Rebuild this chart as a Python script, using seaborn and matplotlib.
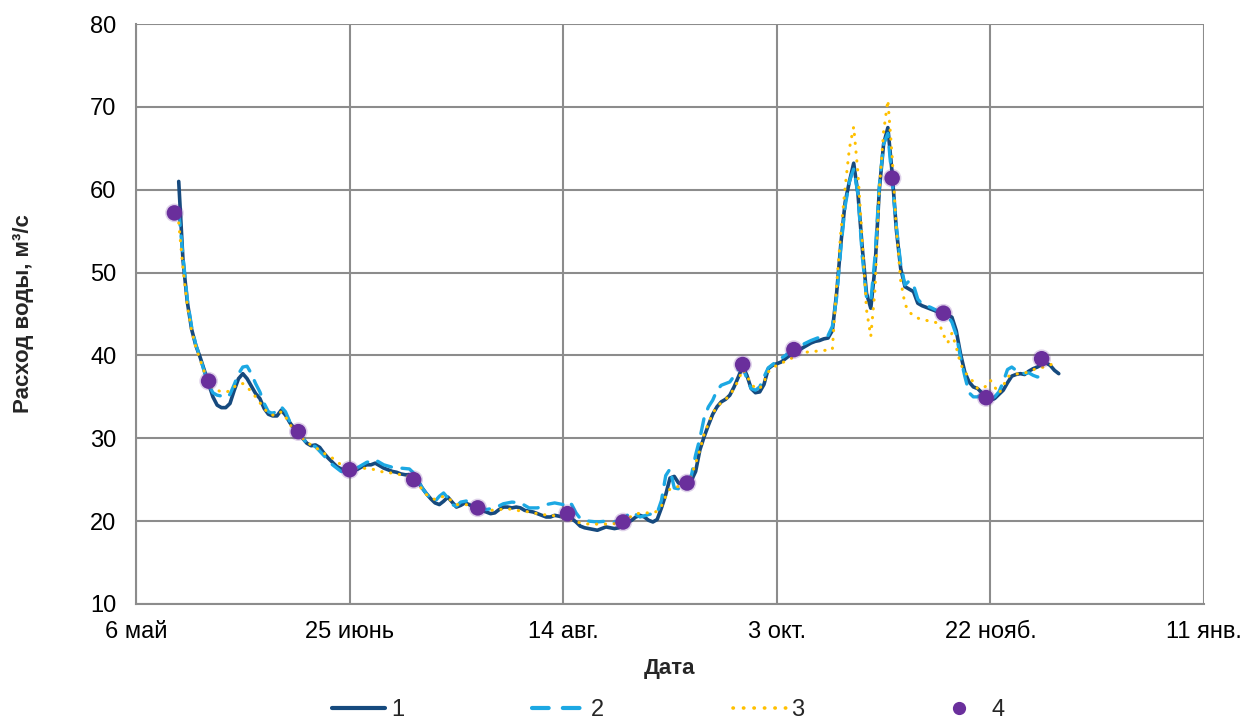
import numpy as np
import pandas as pd
import matplotlib
matplotlib.use("Agg")
import matplotlib.pyplot as plt
import seaborn as sns
from matplotlib.lines import Line2D

# ---------------- data ----------------
start_date = "2018-05-06"

# series 1: daily values, day offsets from start_date
days1 = list(range(10, 217))
vals1 = [61.0, 51.5, 46.5, 43.2, 41.2, 39.8, 38.2, 36.6, 35.0, 34.0,   # 10-19
         33.7, 33.7, 34.2, 35.8, 37.2, 37.8, 37.2, 36.3, 35.4, 34.8,   # 20-29
         33.6, 32.9, 32.7, 32.7, 33.4, 32.8, 31.9, 31.2, 30.6, 30.0,   # 30-39
         29.4, 29.1, 29.2, 28.9, 28.2, 27.6, 27.1, 26.6, 26.3, 26.2,   # 40-49
         26.2, 26.1, 26.3, 26.6, 26.8, 26.8, 27.0, 26.7, 26.4, 26.2,   # 50-59
         26.0, 25.9, 25.7, 25.6, 25.6, 25.2, 24.8, 24.0, 23.3, 22.7,   # 60-69
         22.2, 22.0, 22.4, 22.9, 22.3, 21.7, 21.9, 22.2, 22.0, 21.7,   # 70-79
         21.5, 21.3, 21.1, 20.9, 21.0, 21.4, 21.7, 21.7, 21.6, 21.7,   # 80-89
         21.6, 21.3, 21.2, 21.1, 20.9, 20.7, 20.5, 20.5, 20.7, 20.6,   # 90-99
         20.5, 20.4, 20.3, 19.9, 19.4, 19.2, 19.1, 19.0, 18.9, 19.1,   # 100-109
         19.3, 19.2, 19.1, 19.2, 19.5, 19.8, 20.1, 20.5, 20.7, 20.5,   # 110-119
         20.1, 19.9, 20.2, 21.6, 23.2, 25.2, 25.4, 24.6, 24.5, 24.6,   # 120-129
         24.9, 26.0, 28.6, 30.2, 31.6, 32.9, 33.8, 34.4, 34.7, 35.2,   # 130-139
         36.2, 37.4, 38.7, 37.6, 36.0, 35.5, 35.6, 36.5, 38.4, 38.8,   # 140-149
         39.0, 39.2, 39.6, 40.0, 40.3, 40.6, 40.9, 41.2, 41.5, 41.7,   # 150-159
         41.8, 42.0, 42.1, 43.0, 47.5, 53.5, 58.5, 61.0, 63.2, 59.5,   # 160-169
         53.0, 47.5, 45.7, 50.7, 60.0, 65.5, 67.5, 62.0, 55.1, 50.5,   # 170-179
         48.3, 48.0, 47.7, 46.3, 46.0, 45.8, 45.6, 45.4, 45.2, 45.1,   # 180-189
         44.9, 44.6, 43.0, 40.2, 38.0, 36.8, 36.2, 36.0, 35.5, 34.8,   # 190-199
         34.6, 34.8, 35.3, 35.8, 36.7, 37.5, 37.7, 37.8, 37.7, 38.1,   # 200-209
         38.4, 38.6, 38.9, 39.1, 38.8, 38.2, 37.8]                     # 210-216

days2 = [10, 11, 12, 13, 14, 15, 16, 17, 18, 19, 20, 21, 22, 23, 24, 25, 26, 27, 28, 29,
         30, 31, 32, 33, 34, 35, 36, 37, 38, 40, 42, 44, 46, 48, 50, 52, 54, 56, 58, 60,
         62, 64, 65, 66, 67, 68, 69, 70, 71, 72, 73, 74, 75, 76, 78, 80, 82, 84, 86, 88,
         90, 92, 94, 96, 98, 100, 101, 102, 103, 104, 106, 108, 110, 112, 114, 116, 117, 118, 120, 122,
         123, 124, 125, 126, 127, 128, 129, 130, 131, 132, 133, 134, 135, 136, 137, 138, 139, 140, 141, 142,
         143, 144, 145, 146, 147, 148, 150, 152, 154, 156, 158, 160, 162, 163, 164, 165, 166, 167, 168, 169,
         170, 171, 172, 173, 174, 175, 176, 177, 178, 179, 180, 181, 182, 183, 184, 186, 188, 189, 190, 191,
         192, 193, 194, 195, 196, 197, 198, 199, 200, 201, 202, 203, 204, 205, 206, 207, 208, 209, 210, 211,
         212, 213]
vals2 = [57.5, 52.0, 46.8, 43.5, 41.3, 39.8, 38.0, 36.5, 35.5, 35.2, 35.1, 34.9, 35.3, 36.5, 37.8, 38.6, 38.7, 37.8, 36.6, 35.6,
         34.2, 33.2, 33.0, 33.3, 33.8, 33.2, 32.0, 31.3, 30.7, 29.4, 29.0, 27.9, 26.8, 26.0, 25.9, 26.5, 27.1, 27.4, 26.8, 26.5,
         26.4, 26.3, 25.8, 25.0, 24.0, 23.3, 22.7, 22.4, 23.0, 23.4, 22.8, 22.0, 21.8, 22.3, 22.5, 21.8, 21.4, 21.6, 22.1, 22.3,
         22.2, 21.6, 21.6, 22.0, 22.2, 22.0, 22.4, 22.0, 21.0, 20.3, 20.0, 19.9, 20.0, 19.9, 20.3, 21.1, 20.8, 20.5, 20.8, 21.0,
         22.5, 25.5, 26.3, 24.0, 23.9, 24.3, 24.7, 25.5, 28.0, 30.0, 32.5, 33.8, 34.6, 35.8, 36.4, 36.6, 36.8, 37.5, 38.3, 38.6,
         37.2, 36.0, 35.8, 36.2, 37.4, 38.5, 39.3, 40.0, 40.8, 41.3, 41.8, 42.2, 42.4, 43.5, 47.0, 53.0, 58.0, 61.0, 62.5, 59.5,
         52.0, 47.0, 46.5, 52.0, 60.5, 65.5, 66.8, 61.0, 55.5, 51.0, 48.5, 49.0, 48.5, 46.8, 46.2, 45.8, 45.3, 45.0, 44.8, 44.0,
         42.5, 39.8, 37.5, 35.5, 35.0, 35.0, 35.3, 35.0, 34.8, 35.0, 35.6, 36.8, 38.3, 38.6, 38.2, 38.0, 37.8, 37.9, 37.6, 37.4,
         37.5, 37.8]

days3 = [10, 11, 12, 13, 14, 15, 16, 17, 18, 19, 20, 21, 22, 23, 24, 25, 26, 27, 28, 29,
         30, 31, 32, 33, 34, 35, 36, 37, 38, 40, 42, 44, 46, 48, 50, 52, 54, 56, 58, 60,
         62, 64, 66, 67, 68, 70, 72, 73, 75, 77, 79, 81, 83, 85, 87, 89, 91, 93, 95, 97,
         99, 101, 103, 105, 107, 109, 111, 113, 115, 117, 119, 121, 122, 123, 124, 125, 127, 129, 130, 131,
         132, 133, 134, 135, 136, 137, 138, 139, 140, 141, 142, 143, 144, 145, 146, 147, 148, 149, 150, 152,
         154, 155, 157, 159, 161, 163, 164, 165, 166, 167, 168, 169, 170, 171, 172, 173, 174, 175, 176, 177,
         178, 179, 180, 181, 183, 186, 188, 189, 190, 191, 192, 193, 194, 195, 196, 197, 198, 199, 200, 201,
         202, 203, 204, 205, 207, 209, 211, 213, 215]
vals3 = [56.0, 50.5, 46.0, 43.0, 41.0, 39.5, 38.0, 36.8, 36.0, 35.8, 35.6, 35.6, 35.7, 36.2, 36.6, 36.6, 36.2, 35.6, 35.0, 34.3,
         33.6, 33.0, 32.8, 32.8, 33.2, 32.6, 31.7, 31.0, 30.5, 29.5, 28.9, 28.2, 27.6, 26.8, 26.3, 26.3, 26.4, 26.2, 25.9, 25.8,
         25.6, 25.4, 24.5, 23.8, 23.2, 22.6, 23.0, 22.8, 22.0, 22.0, 21.9, 21.5, 21.3, 21.4, 21.5, 21.3, 21.2, 21.0, 20.8, 20.7,
         20.6, 20.3, 19.9, 19.7, 19.6, 19.7, 19.6, 19.8, 20.3, 20.9, 21.0, 21.0, 21.2, 21.8, 23.0, 23.9, 24.2, 24.4, 25.5, 27.0,
         28.6, 30.5, 31.8, 33.0, 33.8, 34.3, 34.7, 35.2, 36.0, 37.0, 38.3, 37.5, 36.6, 36.0, 36.0, 36.8, 38.0, 38.5, 38.8, 39.3,
         39.8, 40.3, 40.4, 40.5, 40.6, 40.7, 48.5, 55.0, 60.3, 65.0, 67.6, 62.0, 54.0, 45.5, 42.3, 48.0, 60.0, 67.0, 70.8, 64.0,
         55.1, 49.0, 46.2, 45.2, 44.5, 44.1, 43.9, 42.5, 41.5, 42.7, 41.0, 39.0, 38.0, 37.4, 36.8, 36.0, 36.0, 36.3, 37.0, 36.2,
         35.4, 36.3, 37.4, 37.7, 37.8, 38.0, 38.5, 38.6, 39.1]

days4 = [9, 17, 38, 50, 65, 80, 101, 114, 129, 142, 154, 177, 189, 199, 212]
vals4 = [57.2, 36.9, 30.8, 26.2, 25.0, 21.6, 20.9, 19.9, 24.6, 38.9, 40.7, 61.4, 45.1, 34.9, 39.6]

tick_days = [0, 50, 100, 150, 200, 250]
tick_labels = ["6 май", "25 июнь", "14 авг.", "3 окт.", "22 нояб.", "11 янв."]
y_ticks = [10, 20, 30, 40, 50, 60, 70, 80]
legend_labels = ["1", "2", "3", "4"]

# ---------------- build frames ----------------
base = pd.Timestamp(start_date)
def frame(days, vals):
    return pd.DataFrame({"date": [base + pd.Timedelta(days=d) for d in days], "value": vals})

df1, df2, df3, df4 = frame(days1, vals1), frame(days2, vals2), frame(days3, vals3), frame(days4, vals4)

# ---------------- style ----------------
sns.set_theme(style="white")
plt.rcParams["font.family"] = ["Liberation Sans", "DejaVu Sans"]

c1, c2, c3, c4 = "#164a7e", "#1ca8e3", "#ffc000", "#6a2f9c"
grid_c = "#8c8c8c"
fs = 17

fig = plt.figure(figsize=(12.42, 7.19), dpi=100)
ax = fig.add_axes([136 / 1242, 115 / 719, (1204 - 136) / 1242, (604 - 24) / 719])

sns.lineplot(data=df1, x="date", y="value", ax=ax, color=c1, linewidth=2.6, zorder=3)
sns.lineplot(data=df2, x="date", y="value", ax=ax, color=c2, linewidth=2.4, zorder=4)
ax.lines[-1].set_dashes((4.5, 3.2))
ax.lines[-1].set_dash_capstyle("round")
sns.lineplot(data=df3, x="date", y="value", ax=ax, color=c3, linewidth=2.2, zorder=5)
ax.lines[-1].set_dashes((0.1, 2.8))
ax.lines[-1].set_dash_capstyle("round")
sns.scatterplot(data=df4, x="date", y="value", ax=ax, color=c4, s=180, alpha=0.22,
                edgecolor="none", zorder=6)
sns.scatterplot(data=df4, x="date", y="value", ax=ax, color=c4, s=125, alpha=1.0,
                edgecolor="none", zorder=7)

ax.set_xlim(base, base + pd.Timedelta(days=250))
ax.set_ylim(10, 80)
ax.set_yticks(y_ticks)
ax.set_yticklabels([str(v) for v in y_ticks], fontsize=fs, color="black")
ax.set_xticks([base + pd.Timedelta(days=d) for d in tick_days])
ax.set_xticklabels(tick_labels, fontsize=fs, color="black")
ax.tick_params(axis="both", length=0)
ax.tick_params(axis="y", pad=14)
ax.tick_params(axis="x", pad=12)

ax.grid(True, color=grid_c, linewidth=1.5)
for side in ["top", "right"]:
    ax.spines[side].set_visible(False)
for side in ["left", "bottom"]:
    ax.spines[side].set_color(grid_c)
    ax.spines[side].set_linewidth(1.5)

ax.set_xlabel("Дата", fontsize=16, fontweight="bold")
ax.set_ylabel("Расход воды, м³/с", fontsize=16, fontweight="bold")
ax.xaxis.set_label_coords(0.5, (604 - 658) / 580)
ax.yaxis.set_label_coords((34 - 136) / 1068, 0.5)

handles = [
    Line2D([], [], color=c1, linewidth=3),
    Line2D([], [], color=c2, linewidth=3, dashes=(4.0, 3.4), dash_capstyle="round"),
    Line2D([], [], color=c3, linewidth=2.6, dashes=(0.1, 2.8), dash_capstyle="round"),
    Line2D([], [], color=c4, marker="o", linestyle="none", markersize=8.5),
]
fig.legend(handles, legend_labels, loc="center", bbox_to_anchor=(0.5382, 1 - 710 / 719),
           ncol=4, frameon=False, fontsize=fs, handlelength=2.25, handletextpad=0.25,
           columnspacing=5.43)

fig.savefig("out.png", dpi=100)
